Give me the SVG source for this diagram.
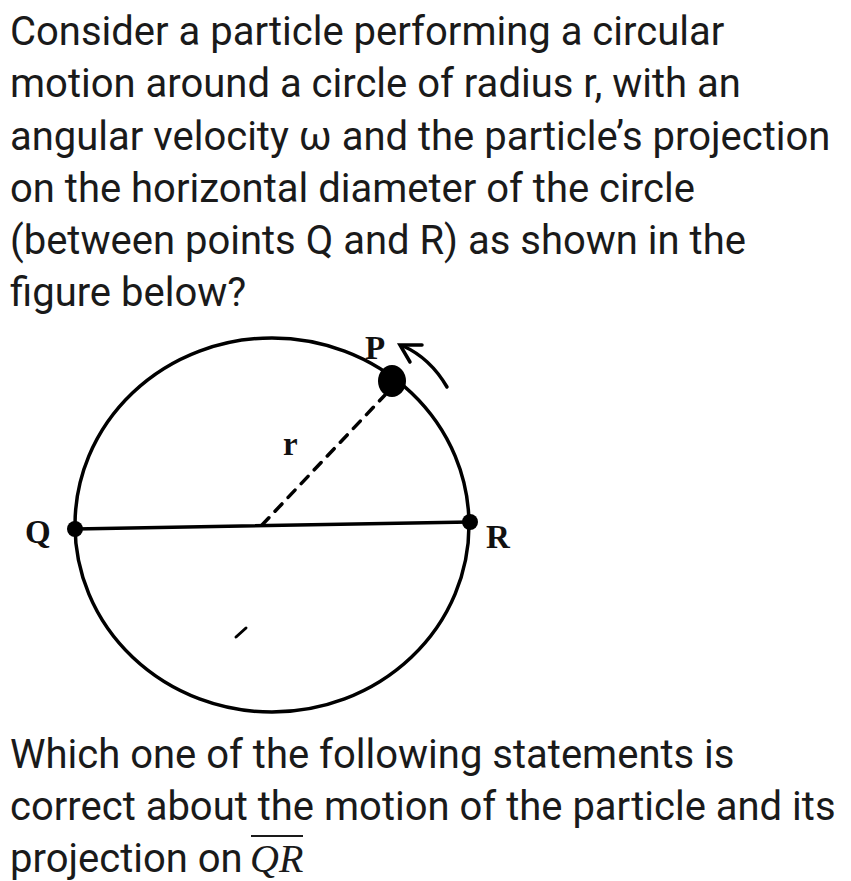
<svg xmlns="http://www.w3.org/2000/svg" width="851" height="881" viewBox="0 0 851 881">
<style>
.t{font-family:Roboto,"Noto Sans",sans-serif;font-size:40px;fill:#1a1a1a}
.lbl{font-family:"Liberation Serif",serif;font-weight:bold;font-size:33px;fill:#111}
.ln{stroke:#000;stroke-width:3.5;fill:none;stroke-linecap:round}
</style>
<rect width="851" height="881" fill="#fff"/>
<g id="question">
<text class="t" x="10" y="45">Consider a particle performing a circular</text>
<text class="t" x="10" y="97">motion around a circle of radius r, with an</text>
<text class="t" x="10" y="150">angular velocity ω and the particle’s projection</text>
<text class="t" x="10" y="202">on the horizontal diameter of the circle</text>
<text class="t" x="10" y="254">(between points Q and R) as shown in the</text>
<text class="t" x="10" y="306">figure below?</text>
</g>
<g id="circle">
<ellipse class="ln" cx="272" cy="525" rx="197" ry="187"/>
</g>
<g id="connectors">
<line class="ln" x1="75" y1="529" x2="470" y2="522"/>
<line class="ln" x1="262" y1="525" x2="385" y2="395" stroke-dasharray="10,9"/>
<path class="ln" d="M447,387 Q430,358 403,346" stroke-width="4"/>
<path class="ln" d="M422,345 L400,345 L410,362" stroke-width="4.5"/>
<path d="M236,637 L246,628" stroke="#000" stroke-width="3" stroke-linecap="round"/>
</g>
<g id="P">
<ellipse cx="392" cy="381" rx="14" ry="16" fill="#000"/>
<text class="lbl" x="365" y="359">P</text>
</g>
<g id="Q">
<circle cx="75" cy="529" r="8" fill="#000"/>
<text class="lbl" x="25" y="543">Q</text>
</g>
<g id="R">
<circle cx="470" cy="522" r="8" fill="#000"/>
<text class="lbl" x="486" y="548">R</text>
</g>
<g id="r">
<text class="lbl" x="283" y="455" font-size="24">r</text>
</g>
<g id="question2">
<text class="t" x="10" y="768">Which one of the following statements is</text>
<text class="t" x="10" y="820">correct about the motion of the particle and its</text>
<text class="t" x="10" y="872">projection on</text>
<text x="250" y="872" font-family="'Liberation Serif',serif" font-style="italic" font-size="40" fill="#1a1a1a">QR</text>
<line x1="251" y1="836" x2="303" y2="836" stroke="#1a1a1a" stroke-width="2"/>
</g>
</svg>
